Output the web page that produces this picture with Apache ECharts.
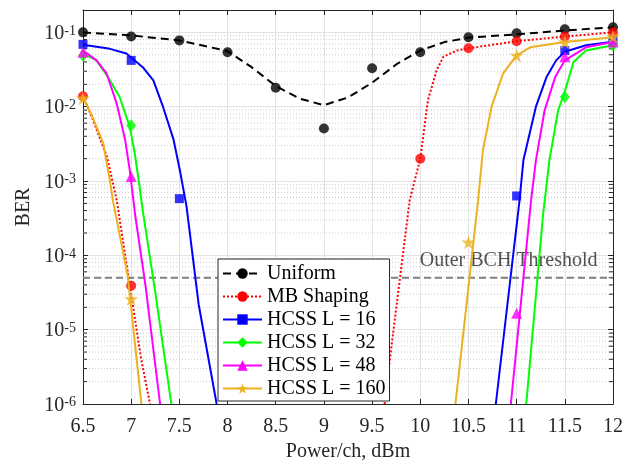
<!DOCTYPE html>
<html>
<head>
<meta charset="utf-8">
<script src="https://cdn.jsdelivr.net/npm/echarts@6/dist/echarts.min.js"></script>
<style>html,body{margin:0;padding:0;background:#fff}#c{width:632px;height:462px}</style>
</head>
<body>
<div id="c"></div>
<script>
// ---- Data ----
const seriesNames = ['Uniform', 'MB Shaping', 'HCSS L = 16', 'HCSS L = 32', 'HCSS L = 48', 'HCSS L = 160'];
const xTicks = [6.5, 7, 7.5, 8, 8.5, 9, 9.5, 10, 10.5, 11, 11.5, 12];
const threshold = 5e-5;
const thresholdLabel = 'Outer BCH Threshold';

// markers (measured points)
const uniformMX = [6.5, 7, 7.5, 8, 8.5, 9, 9.5, 10, 10.5, 11, 11.5, 12];
const uniformMY = [0.1, 0.088, 0.078, 0.054, 0.018, 0.0051, 0.033, 0.054, 0.086, 0.097, 0.11, 0.117];
const mbMX = [6.5, 7, 10, 10.5, 11, 11.5, 12];
const mbMY = [0.0138, 3.9e-5, 0.002, 0.061, 0.076, 0.088, 0.1];
const l16MX = [6.5, 7, 7.5, 11, 11.5, 12];
const l16MY = [0.069, 0.042, 5.8e-4, 6.3e-4, 0.057, 0.078];
const l32MX = [6.5, 7, 11.5, 12];
const l32MY = [0.049, 0.0056, 0.0135, 0.067];
const l48MX = [6.5, 7, 11, 11.5, 12];
const l48MY = [0.054, 0.00115, 1.66e-5, 0.047, 0.074];
const l160MX = [6.5, 7, 10.5, 11, 11.5, 12];
const l160MY = [0.013, 2.6e-5, 1.5e-4, 0.049, 0.074, 0.088];

// fitted curves (null = gap below the axis)
const uniformCX = [6.5, 7, 7.5, 8, 8.25, 8.5, 8.75, 9, 9.25, 9.5, 9.75, 10, 10.25, 10.5, 11, 11.5, 12];
const uniformCY = [0.1, 0.091, 0.078, 0.056, 0.034, 0.019, 0.0128, 0.0105, 0.0133, 0.021, 0.037, 0.057, 0.074, 0.085, 0.094, 0.106, 0.117];
const mbCX = [6.5, 6.6, 6.75, 6.85, 7.0, 7.1, 7.195, null, 9.63, 9.675, 9.89, 10, 10.08, 10.17, 10.24, 10.38, 10.5, 11, 11.5, 12];
const mbCY = [0.014, 0.0068, 0.0021, 5.5e-4, 3e-5, 4.3e-6, 1e-6, null, 1e-6, 3.2e-6, 5.5e-4, 0.002, 0.0123, 0.031, 0.047, 0.057, 0.061, 0.076, 0.088, 0.1];
const l16CX = [6.5, 6.78, 6.95, 7.12, 7.23, 7.33, 7.44, 7.51, 7.575, 7.7, 7.887, null, 10.784, 11.03, 11.07, 11.2, 11.31, 11.41, 11.5, 11.72, 12];
const l16CY = [0.068, 0.06, 0.052, 0.034, 0.0226, 0.01, 0.0036, 0.0013, 4.5e-4, 2.2e-5, 1e-6, null, 1e-6, 5.5e-4, 0.0019, 0.01, 0.025, 0.042, 0.055, 0.067, 0.075];
const l32CX = [6.5, 6.64, 6.76, 6.88, 6.985, 7.036, 7.088, 7.12, 7.25, 7.417, null, 11.1, 11.275, 11.34, 11.43, 11.5, 11.59, 11.72, 12];
const l32CY = [0.052, 0.042, 0.025, 0.0135, 0.0054, 0.0024, 8.3e-4, 4e-4, 3.2e-5, 1e-6, null, 1e-6, 3.6e-4, 0.0019, 0.0089, 0.016, 0.04, 0.057, 0.067];
const l48CX = [6.5, 6.64, 6.745, 6.85, 6.937, 6.985, 7.04, 7.15, 7.3, null, 10.94, 11.15, 11.2, 11.29, 11.4, 11.5, 11.72, 12];
const l48CY = [0.057, 0.042, 0.028, 0.011, 0.0036, 0.0014, 3.6e-4, 3.8e-5, 1e-6, null, 1e-6, 5.5e-4, 0.0019, 0.0089, 0.025, 0.042, 0.063, 0.074];
const l160CX = [6.5, 6.6, 6.71, 6.78, 6.81, 6.966, 7.106, null, 10.365, 10.6, 10.65, 10.74, 10.86, 11, 11.14, 11.5, 12];
const l160CY = [0.0135, 0.0072, 0.0032, 0.001, 5.5e-4, 5.1e-5, 1e-6, null, 1e-6, 5.5e-4, 0.0026, 0.01, 0.028, 0.049, 0.063, 0.074, 0.086];

// ---- Build chart ----
const zip = (xs, ys) => xs.map((x, i) => [x, ys[i]]);
const FONT = 'Liberation Serif';
const FS = 20;
const TXT = '#262626';
const STAR = 'path://M50,0 L61.2,34.5 L97.6,34.5 L68.2,55.9 L79.4,90.5 L50,69.1 L20.6,90.5 L31.8,55.9 L2.4,34.5 L38.8,34.5 Z';
const X0 = xTicks[0], X1 = xTicks[xTicks.length - 1];

const defs = [
  { name: seriesNames[0], color: '#000000', cx: uniformCX, cy: uniformCY, mx: uniformMX, my: uniformMY, symbol: 'circle', size: 10, type: [8, 5] },
  { name: seriesNames[1], color: '#FF0000', cx: mbCX, cy: mbCY, mx: mbMX, my: mbMY, symbol: 'circle', size: 10, type: [2, 2] },
  { name: seriesNames[2], color: '#0000FF', cx: l16CX, cy: l16CY, mx: l16MX, my: l16MY, symbol: 'rect', size: 9, type: 'solid' },
  { name: seriesNames[3], color: '#00FF00', cx: l32CX, cy: l32CY, mx: l32MX, my: l32MY, symbol: 'diamond', size: [10, 13], type: 'solid' },
  { name: seriesNames[4], color: '#FF00FF', cx: l48CX, cy: l48CY, mx: l48MX, my: l48MY, symbol: 'triangle', size: 11, type: 'solid' },
  { name: seriesNames[5], color: '#EDB120', cx: l160CX, cy: l160CY, mx: l160MX, my: l160MY, symbol: STAR, size: 14, type: 'solid' }
];

// minor log grid values (2..9 x 10^e)
const minorVals = [];
for (let e = -6; e <= -2; e++) for (let m = 2; m <= 9; m++) minorVals.push(m * Math.pow(10, e));

const series = [];
// minor grid (dotted) + minor ticks, drawn through the axis scale
series.push({
  name: '_minor', type: 'custom', silent: true, z: 1, clip: false,
  data: minorVals.map(v => [X0, v]),
  renderItem: (params, api) => {
    const v = api.value(1);
    const a = api.coord([X0, v]);
    const b = api.coord([X1, v]);
    return {
      type: 'group',
      children: [
        { type: 'line', shape: { x1: a[0], y1: a[1], x2: b[0], y2: b[1] },
          style: { stroke: '#cdcdcd', lineWidth: 1, lineDash: [1, 2] } },
        { type: 'line', shape: { x1: a[0], y1: a[1], x2: a[0] + 4, y2: a[1] },
          style: { stroke: TXT, lineWidth: 1 } },
        { type: 'line', shape: { x1: b[0] - 4, y1: b[1], x2: b[0], y2: b[1] },
          style: { stroke: TXT, lineWidth: 1 } }
      ]
    };
  }
});
series.push({
  name: '_thr', type: 'line', data: [[X0, threshold], [X1, threshold]], silent: true, z: 2, symbol: 'none',
  lineStyle: { type: [7, 4], color: '#7f7f7f', width: 2 }
});
series.push({
  name: '_thrLabel', type: 'scatter', data: [[X1, threshold]], silent: true, z: 2, symbolSize: 1,
  itemStyle: { color: 'rgba(0,0,0,0)' },
  label: {
    show: true, position: 'left', distance: 15, offset: [0, -17], formatter: thresholdLabel,
    fontFamily: FONT, fontSize: FS, color: TXT
  }
});
defs.forEach((d, i) => {
  series.push({
    name: d.name, type: 'line', data: zip(d.cx, d.cy), connectNulls: false,
    symbol: d.symbol, symbolSize: d.size, showSymbol: false, smooth: false,
    lineStyle: { color: d.color, width: 2, type: d.type },
    itemStyle: { color: d.color }, z: 10 + i * 2
  });
  series.push({
    name: d.name, type: 'scatter', data: zip(d.mx, d.my), clip: false,
    symbol: d.symbol, symbolSize: d.size,
    itemStyle: { color: d.color }, z: 11 + i * 2
  });
});

const yFmt = v => {
  const l = Math.log10(v);
  const e = Math.round(l);
  if (Math.abs(l - e) > 1e-6) return '';
  return '{b|10}{s|' + e + '}';
};
const yRich = {
  b: { fontFamily: FONT, fontSize: FS, color: TXT, verticalAlign: 'bottom', lineHeight: 20, padding: [5, 0, 0, 0] },
  s: { fontFamily: FONT, fontSize: 14, color: TXT, verticalAlign: 'top', lineHeight: 14 }
};

const option = {
  animation: false,
  backgroundColor: '#fff',
  grid: { left: 83, right: 19, top: 10, bottom: 58, containLabel: false, outerBoundsMode: 'none' },
  legend: {
    data: seriesNames, orient: 'vertical', left: 218, top: 259,
    itemWidth: 39, itemHeight: 13, itemGap: 2,
    padding: [4, 4, 2, 4], backgroundColor: '#fff', borderColor: TXT, borderWidth: 1,
    textStyle: { fontFamily: FONT, fontSize: FS, color: '#000', lineHeight: 21 },
    z: 20
  },
  xAxis: [{
    type: 'value', min: 6.5, max: 12, interval: 0.5, position: 'bottom',
    axisLine: { show: true, lineStyle: { color: TXT, width: 1 } },
    axisTick: { show: true, inside: true, length: 5, lineStyle: { color: TXT } },
    axisLabel: { fontFamily: FONT, fontSize: FS, color: TXT, margin: 13 },
    splitLine: { show: true, lineStyle: { color: '#e3e3e3', width: 1 } },
    name: 'Power/ch, dBm', nameLocation: 'middle', nameGap: 37,
    nameTextStyle: { fontFamily: FONT, fontSize: FS, color: TXT }
  }, {
    type: 'value', min: 6.5, max: 12, interval: 0.5, position: 'top',
    axisLine: { show: true, onZero: false, lineStyle: { color: TXT, width: 1 } },
    axisTick: { show: true, inside: true, length: 5, lineStyle: { color: TXT } },
    axisLabel: { show: false }, splitLine: { show: false }
  }],
  yAxis: [{
    type: 'log', min: 1e-6, max: 0.2, logBase: 10, position: 'left',
    axisLine: { show: true, lineStyle: { color: TXT, width: 1 } },
    axisTick: { show: true, inside: true, length: 5, lineStyle: { color: TXT } },
    axisLabel: { formatter: yFmt, rich: yRich, margin: 7, padding: [3, 0, 0, 0] },
    splitLine: { show: true, lineStyle: { color: '#e3e3e3', width: 1 } },
    name: 'BER', nameLocation: 'middle', nameGap: 48,
    nameTextStyle: { fontFamily: FONT, fontSize: FS, color: TXT }
  }, {
    type: 'log', min: 1e-6, max: 0.2, logBase: 10, position: 'right',
    axisLine: { show: true, onZero: false, lineStyle: { color: TXT, width: 1 } },
    axisTick: { show: true, inside: true, length: 5, lineStyle: { color: TXT } },
    axisLabel: { show: false }, splitLine: { show: false }
  }],
  series: series
};

const chart = echarts.init(document.getElementById('c'), null, { renderer: 'canvas' });
chart.setOption(option);
</script>
</body>
</html>
